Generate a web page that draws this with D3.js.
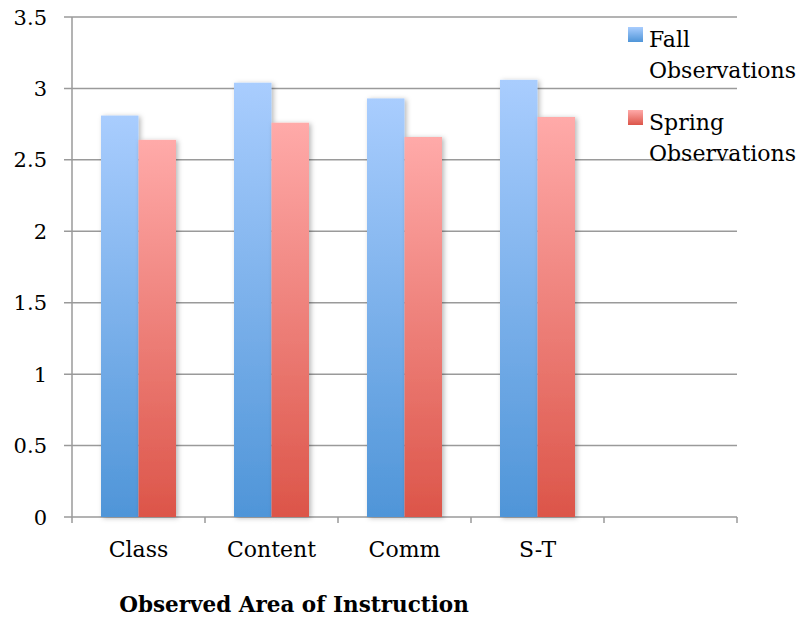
<!DOCTYPE html>
<html>
<head>
<meta charset="UTF-8" />
<title>Observed Area of Instruction</title>
<script src="https://d3js.org/d3.v7.min.js"></script>
<style>
  body { margin: 0; background: #fff; }
  text { font-family: "DejaVu Serif", "Liberation Serif", serif; fill: #000; }
  .grid line { stroke: #9a9a9a; stroke-width: 1.5; }
</style>
</head>
<body>
<div id="chart"></div>
<script>
// categories (last slot is empty in the original)
var categories = ["Class", "Content", "Comm", "S-T", ""];
var fallValues = [2.81, 3.04, 2.93, 3.06];
var springValues = [2.64, 2.76, 2.66, 2.80];
var yTicks = [0, 0.5, 1, 1.5, 2, 2.5, 3, 3.5];
var seriesNames = ["Fall Observations", "Spring Observations"];

var width = 801, height = 617;
var margin = {top: 17, right: 64, bottom: 100, left: 72};
var plotW = width - margin.left - margin.right,
    plotH = height - margin.top - margin.bottom;

var svg = d3.select("#chart").append("svg")
  .attr("width", width)
  .attr("height", height);

var defs = svg.append("defs");

// gradients for the bars
function addGradient(id, top, bottom) {
  var g = defs.append("linearGradient")
    .attr("id", id)
    .attr("x1", 0).attr("y1", 0).attr("x2", 0).attr("y2", 1);
  g.append("stop").attr("offset", "0%").attr("stop-color", top);
  g.append("stop").attr("offset", "100%").attr("stop-color", bottom);
}
addGradient("fallGrad", "#a9cdfe", "#4f95d8");
addGradient("springGrad", "#ffaaa9", "#dc5549");

var shadow = defs.append("filter").attr("id", "shadow")
  .attr("x", "-20%").attr("y", "-20%").attr("width", "150%").attr("height", "140%");
shadow.append("feDropShadow")
  .attr("dx", 2).attr("dy", 1).attr("stdDeviation", 2.5)
  .attr("flood-color", "#000").attr("flood-opacity", 0.28);

var g = svg.append("g")
  .attr("transform", "translate(" + margin.left + "," + margin.top + ")");

var x = d3.scaleBand().domain(d3.range(categories.length)).range([0, plotW]);
var xSub = d3.scaleBand().domain([0, 1]).range([29, x.bandwidth() - 29]);
var y = d3.scaleLinear().domain([0, 3.5]).range([plotH, 0]);

// horizontal gridlines with tick stubs on the left
g.append("g").attr("class", "grid")
  .selectAll("line").data(yTicks).enter().append("line")
  .attr("x1", -8).attr("x2", plotW)
  .attr("y1", function(d) { return y(d); })
  .attr("y2", function(d) { return y(d); });

// y axis line
g.append("line")
  .attr("x1", 0).attr("x2", 0).attr("y1", 0).attr("y2", plotH)
  .attr("stroke", "#9a9a9a").attr("stroke-width", 1.5);

// y labels
g.append("g").selectAll("text").data(yTicks).enter().append("text")
  .attr("x", -25)
  .attr("y", function(d) { return y(d); })
  .attr("dy", "0.36em")
  .attr("text-anchor", "end")
  .style("font-size", "21px")
  .text(function(d) { return d; });

// bottom ticks at band edges
var edges = d3.range(categories.length + 1);
g.append("g").selectAll("line").data(edges).enter().append("line")
  .attr("x1", function(d) { return d * x.step(); })
  .attr("x2", function(d) { return d * x.step(); })
  .attr("y1", plotH).attr("y2", plotH + 6)
  .attr("stroke", "#9a9a9a").attr("stroke-width", 1.5);

// bars
var bars = g.append("g");
var series = [fallValues, springValues];
var fills = ["url(#fallGrad)", "url(#springGrad)"];
series.forEach(function(vals, s) {
  bars.selectAll(".bar" + s).data(vals).enter().append("rect")
    .attr("class", "bar" + s)
    .attr("x", function(d, i) { return x(i) + xSub(s); })
    .attr("width", xSub.bandwidth())
    .attr("y", function(d) { return y(d); })
    .attr("height", function(d) { return y(0) - y(d); })
    .attr("fill", fills[s])
    .attr("filter", "url(#shadow)");
});

// x labels
g.append("g").selectAll("text").data(categories).enter().append("text")
  .attr("x", function(d, i) { return x(i) + x.bandwidth() / 2; })
  .attr("y", plotH + 40)
  .attr("text-anchor", "middle")
  .style("font-size", "22px")
  .text(function(d) { return d; });

// axis title
svg.append("text")
  .attr("x", 294).attr("y", 612)
  .attr("text-anchor", "middle")
  .style("font-size", "21.5px")
  .style("font-weight", "bold")
  .text("Observed Area of Instruction");

// legend
var legend = svg.append("g").attr("transform", "translate(628,27)");
var legendItems = legend.selectAll("g").data(seriesNames).enter().append("g")
  .attr("transform", function(d, i) { return "translate(0," + (i * 83) + ")"; });
legendItems.append("rect")
  .attr("width", 15).attr("height", 15)
  .attr("fill", function(d, i) { return fills[i]; });
legendItems.append("text")
  .attr("x", 21).attr("y", 20)
  .style("font-size", "22px")
  .selectAll("tspan").data(function(d) { return d.split(" "); }).enter().append("tspan")
  .attr("x", 21)
  .attr("dy", function(d, i) { return i === 0 ? 0 : 31; })
  .text(function(d) { return d; });
</script>
</body>
</html>
